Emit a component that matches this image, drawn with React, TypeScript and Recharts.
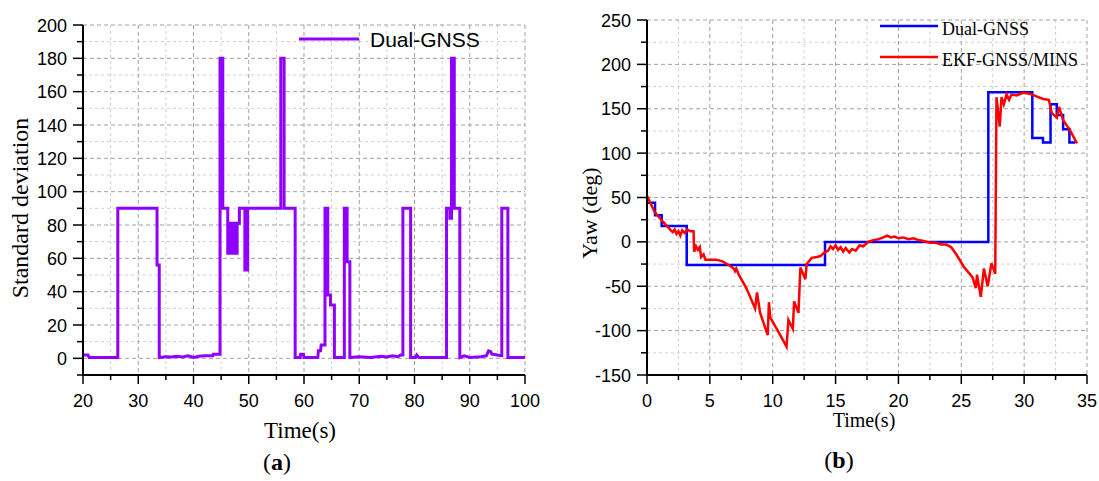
import React from 'react'
import { LineChart, Line, XAxis, YAxis, CartesianGrid } from 'recharts'

// ---- (a) Dual-GNSS standard deviation ----
const stdTime = [
  20, 20.9, 21.1, 26.3, 26.3, 33.4, 33.4, 33.8, 33.8, 35, 36, 37, 38, 39, 40, 41, 42, 43.5, 43.6, 44.8,
  44.8, 45.3, 45.3, 46.2, 46.2, 46.6, 46.6, 46.9, 46.9, 47.1, 47.1, 47.4, 47.4, 47.9, 47.9, 48.3, 48.3, 49.3, 49.3, 49.8,
  49.8, 55.8, 55.8, 56.4, 56.4, 58.4, 58.4, 59.3, 59.4, 59.9, 60, 62.5, 62.6, 63.0, 63.1, 63.8, 63.8, 64.3, 64.3, 64.8,
  64.8, 65.5, 65.5, 67.3, 67.3, 67.8, 67.8, 68.3, 68.3, 70, 72, 74, 75, 76, 77, 77.5, 77.9, 77.9, 79.3, 79.3,
  80.2, 80.4, 80.8, 85.8, 85.8, 86.4, 86.4, 86.7, 86.7, 87.2, 87.2, 88.2, 88.2, 89, 90, 92, 93, 93.4, 93.8, 94,
  95, 95.6, 95.8, 95.8, 96.9, 96.9, 100,
]
const stdValue = [
  2, 2, 0.5, 0.5, 90, 90, 56, 56, 0.5, 1, 0.8, 1.2, 0.8, 1.5, 0.5, 1.2, 1.5, 1.5, 2.5, 2.5,
  180, 180, 90, 90, 63, 63, 81, 81, 63, 63, 81, 81, 63, 63, 81, 81, 90, 90, 53, 53,
  90, 90, 180, 180, 90, 90, 0.5, 0.5, 2.5, 2.5, 0.5, 0.5, 4.5, 4.5, 8, 8, 90, 90, 38, 38,
  32, 32, 0.5, 0.5, 90, 90, 58, 58, 0.5, 1, 0.5, 1.2, 0.8, 1.5, 1, 2, 2, 90, 90, 0.5,
  0.5, 2, 0.5, 0.5, 90, 90, 84, 84, 180, 180, 90, 90, 0.5, 1.5, 0.5, 1, 1.5, 4.5, 4, 2.5,
  2, 1.5, 1.5, 90, 90, 0.5, 0.5,
]

// ---- (b) Yaw ----
const gnssTime = [
  0, 0.64, 0.64, 1.17, 1.17, 3.16, 3.16, 14.16, 14.16, 27.15, 27.15, 30.65, 30.65, 31.5, 31.5, 32.1, 32.1, 32.6, 32.6, 33.1,
  33.1, 33.6, 33.6, 34.05,
]
const gnssYaw = [
  44, 44, 30, 30, 18, 18, -26, -26, 0, 0, 168.5, 168.5, 117, 117, 112, 112, 155, 155, 143, 143,
  127, 127, 112, 112,
]

const ekfTime = [
  0, 0.6, 1.25, 1.9, 2.05, 2.2, 2.35, 2.5, 2.65, 2.8, 3.0, 3.2, 3.45, 3.7, 3.75, 3.9, 4.05, 4.2, 4.3, 4.5,
  4.65, 5.5, 6.0, 6.5, 6.9, 7.0, 7.1, 7.3, 7.9, 8.6, 8.75, 9.0, 9.6, 9.7, 9.8, 10.4, 11.1, 11.25, 11.6, 11.7,
  12.05, 12.2, 12.6, 12.7, 13.1, 13.5, 13.8, 14.1, 14.4, 14.6, 14.8, 15.0, 15.2, 15.4, 15.6, 15.8, 16.1, 16.3, 16.6, 16.9,
  17.2, 17.6, 18.0, 18.4, 18.8, 19.1, 19.4, 19.7, 20.0, 20.4, 20.8, 21.2, 21.6, 22.0, 22.5, 23.0, 23.4, 23.8, 24.2, 24.6,
  25.2, 25.9, 26.15, 26.25, 26.55, 26.8, 27.1, 27.4, 27.7, 27.8, 28.06, 28.2, 28.38, 28.6, 28.8, 29.0, 29.4, 29.9, 30.45, 30.98,
  31.5, 31.97, 32.2, 32.6, 32.78, 33.1, 33.65, 34.2,
]
const ekfYaw = [
  52, 34, 23, 13, 11, 14, 9, 12, 7, 13, 10, 14, 12, 12, -11, -5, -9, -6, -17, -14,
  -20, -20, -22, -26, -30, -33, -30, -37, -52, -75, -57, -80, -105, -68, -85, -100, -118, -88, -98, -67,
  -80, -29, -42, -25, -18, -17, -16, -12, -10, -5, -8, -4, -9, -6, -11, -7, -12, -8, -10, -4,
  -5, 0, 2, 3, 5, 7, 5, 6, 4, 5, 3, 4, 2, 1, -1, -1, -3, -3, -6, -14,
  -28, -40, -52, -37, -62, -30, -50, -24, -36, 163, 130, 163, 155, 166, 160, 166, 165, 168, 167, 164,
  161, 160, 145, 140, 152, 137, 126, 111,
]

const stdTicksX = [20, 25, 30, 35, 40, 45, 50, 55, 60, 65, 70, 75, 80, 85, 90, 95, 100]
const stdTicksY = [-10, 0, 10, 20, 30, 40, 50, 60, 70, 80, 90, 100, 110, 120, 130, 140, 150, 160, 170, 180, 190, 200]
const yawTicksX = [0, 2.5, 5, 7.5, 10, 12.5, 15, 17.5, 20, 22.5, 25, 27.5, 30, 32.5, 35]
const yawTicksY = [-150, -125, -100, -75, -50, -25, 0, 25, 50, 75, 100, 125, 150, 175, 200, 225, 250]

const stdData = stdTime.map((t, i) => ({ t, v: stdValue[i] }))
const gnssData = gnssTime.map((t, i) => ({ t, v: gnssYaw[i] }))
const ekfData = ekfTime.map((t, i) => ({ t, v: ekfYaw[i] }))

const SANS = '"Liberation Sans", Arial, sans-serif'
const SERIF = '"Liberation Serif", "Times New Roman", serif'

const XTick = ({ x, y, payload, major }: any) => {
  const isMajor = major(payload.value)
  return (
    <g>
      <line x1={x} x2={x} y1={y} y2={y + (isMajor ? 9 : 5)} stroke="#000" strokeWidth={1.5} />
      {isMajor && (
        <text x={x} y={y + 32} textAnchor="middle" fontFamily={SANS} fontSize={18} fill="#000">
          {payload.value}
        </text>
      )}
    </g>
  )
}

const YTick = ({ x, y, payload, major }: any) => {
  const isMajor = major(payload.value)
  return (
    <g>
      <line x1={x - (isMajor ? 10 : 6)} x2={x} y1={y} y2={y} stroke="#000" strokeWidth={1.5} />
      {isMajor && (
        <text x={x - 16} y={y + 6.5} textAnchor="end" fontFamily={SANS} fontSize={18} fill="#000">
          {payload.value}
        </text>
      )}
    </g>
  )
}

const title = (left: number, top: number, size: number, rotate = false): React.CSSProperties => ({
  position: 'absolute',
  left,
  top,
  transform: `translate(-50%, -50%)${rotate ? ' rotate(-90deg)' : ''}`,
  fontFamily: SERIF,
  fontSize: size,
  whiteSpace: 'nowrap',
  color: '#000',
  lineHeight: 1,
})

export default function App() {
  return (
    <div style={{ position: 'absolute', left: 0, top: 0, width: 1099, height: 481, background: '#fff', overflow: 'hidden' }}>
      <div style={{ position: 'absolute', left: 0, top: 0 }}>
        <LineChart width={560} height={420} margin={{ top: 25, right: 35, bottom: 5, left: 23 }}>
          <CartesianGrid horizontalValues={[10, 30, 50, 70, 90, 110, 130, 150, 170, 190]} verticalValues={[25, 35, 45, 55, 65, 75, 85, 95]} stroke="#d0d0d0" strokeDasharray="3 3" />
          <CartesianGrid horizontalValues={[0, 20, 40, 60, 80, 100, 120, 140, 160, 180, 200]} verticalValues={[30, 40, 50, 60, 70, 80, 90, 100]} stroke="#a0a0a0" strokeDasharray="4 3" />
          <XAxis type="number" dataKey="t" domain={[20, 100]} ticks={stdTicksX} interval={0} height={40}
            axisLine={{ stroke: '#000', strokeWidth: 2 }} tickLine={false} tickSize={0} tickMargin={0}
            tick={(p: any) => <XTick {...p} major={(v: number) => v % 10 === 0} />} />
          <YAxis type="number" domain={[-10, 200]} ticks={stdTicksY} interval={0} width={60}
            axisLine={{ stroke: '#000', strokeWidth: 2 }} tickLine={false} tickSize={0} tickMargin={0}
            tick={(p: any) => <YTick {...p} major={(v: number) => v % 20 === 0} />} />
          <Line data={stdData} dataKey="v" name="Dual-GNSS" type="linear" stroke="#8F00FF" strokeWidth={3} dot={false} isAnimationActive={false} />
        </LineChart>
      </div>
      <svg style={{ position: 'absolute', left: 295, top: 26 }} width={200} height={30}>
        <line x1={4} x2={64} y1={13} y2={13} stroke="#8F00FF" strokeWidth={3} />
        <text x={75} y={21} fontFamily={SANS} fontSize={21} fill="#000">Dual-GNSS</text>
      </svg>

      <div style={{ position: 'absolute', left: 560, top: 0 }}>
        <LineChart width={539} height={420} margin={{ top: 20, right: 12, bottom: 5, left: 27 }}>
          <CartesianGrid horizontalValues={[-125, -75, -25, 25, 75, 125, 175, 225]} verticalValues={[2.5, 7.5, 12.5, 17.5, 22.5, 27.5, 32.5]} stroke="#d0d0d0" strokeDasharray="3 3" />
          <CartesianGrid horizontalValues={[-100, -50, 0, 50, 100, 150, 200, 250]} verticalValues={[5, 10, 15, 20, 25, 30, 35]} stroke="#a0a0a0" strokeDasharray="4 3" />
          <XAxis type="number" dataKey="t" domain={[0, 35]} ticks={yawTicksX} interval={0} height={40}
            axisLine={{ stroke: '#000', strokeWidth: 2 }} tickLine={false} tickSize={0} tickMargin={0}
            tick={(p: any) => <XTick {...p} major={(v: number) => v % 5 === 0} />} />
          <YAxis type="number" domain={[-150, 250]} ticks={yawTicksY} interval={0} width={60}
            axisLine={{ stroke: '#000', strokeWidth: 2 }} tickLine={false} tickSize={0} tickMargin={0}
            tick={(p: any) => <YTick {...p} major={(v: number) => v % 50 === 0} />} />
          <Line data={gnssData} dataKey="v" name="Dual-GNSS" type="linear" stroke="#0000FF" strokeWidth={2.5} dot={false} isAnimationActive={false} />
          <Line data={ekfData} dataKey="v" name="EKF-GNSS/MINS" type="linear" stroke="#FF0000" strokeWidth={2.5} dot={false} isAnimationActive={false} />
        </LineChart>
      </div>
      <svg style={{ position: 'absolute', left: 878, top: 12 }} width={220} height={60}>
        <line x1={2} x2={60} y1={14} y2={14} stroke="#0000FF" strokeWidth={2.5} />
        <text x={64} y={23} fontFamily={SERIF} fontSize={18} fill="#000">Dual-GNSS</text>
        <line x1={2} x2={60} y1={45} y2={45} stroke="#FF0000" strokeWidth={2.5} />
        <text x={64} y={54} fontFamily={SERIF} fontSize={18} fill="#000">EKF-GNSS/MINS</text>
      </svg>

      <div style={title(20, 208, 24, true)}>Standard deviation</div>
      <div style={title(300, 430, 23)}>Time(s)</div>
      <div style={title(277, 462, 24)}>(<b>a</b>)</div>
      <div style={title(590, 213, 22, true)}>Yaw (deg)</div>
      <div style={title(864, 420, 20)}>Time(s)</div>
      <div style={title(839, 460, 24)}>(<b>b</b>)</div>
    </div>
  )
}
